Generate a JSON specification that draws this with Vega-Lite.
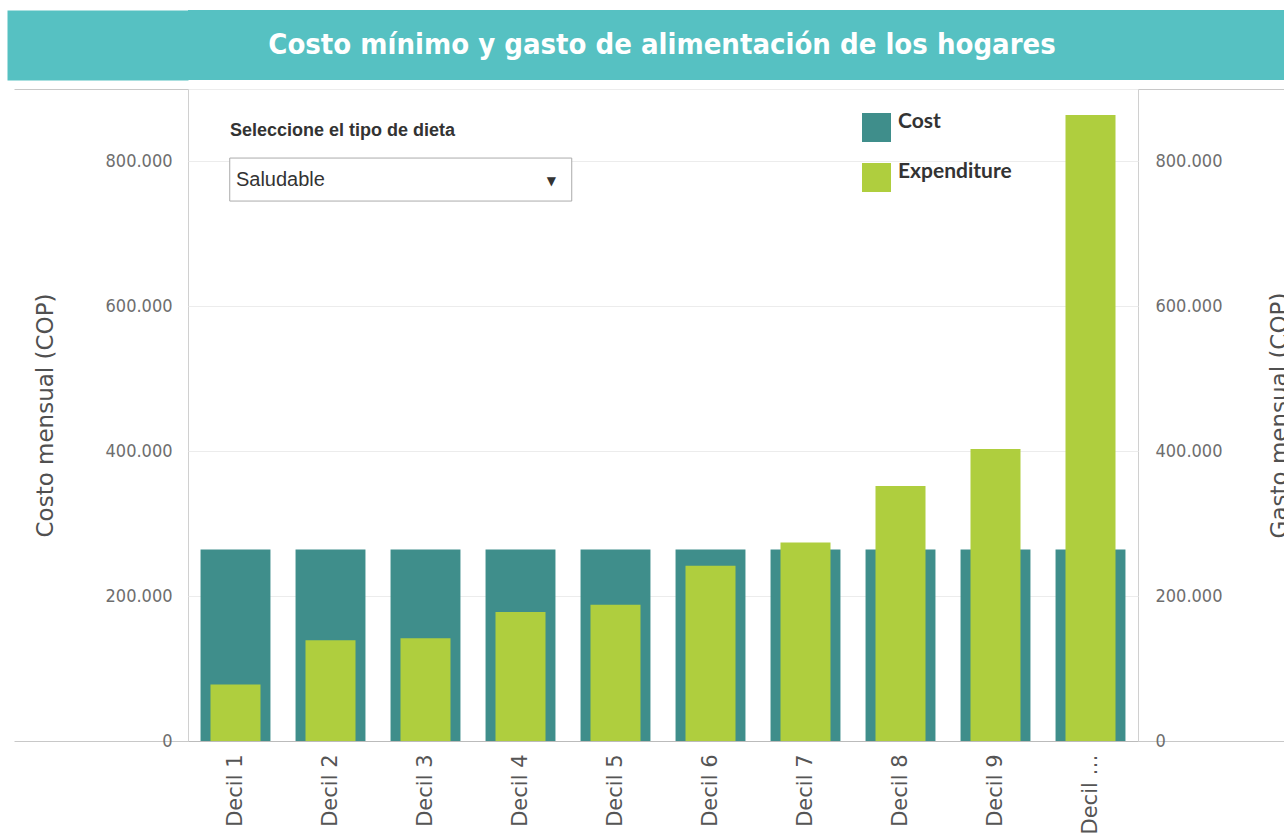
{
  "$schema": "https://vega.github.io/schema/vega-lite/v6.json",
  "padding": {"left": -28, "top": 10, "right": 0, "bottom": 0},
  "background": "white",
  "spacing": 8,
  "config": {"view": {"stroke": null}},
  "vconcat": [
    {
      "width": 1096,
      "height": 70,
      "view": {"fill": "#56C1C2", "stroke": null},
      "data": {"values": [{"t": "Costo mínimo y gasto de alimentación de los hogares"}]},
      "mark": {"type": "text", "color": "white", "font": "DejaVu Sans Condensed, sans-serif", "fontSize": 29, "fontWeight": "bold", "baseline": "middle", "align": "center", "dx": -74},
      "encoding": {
        "text": {"field": "t"},
        "y": {"datum": 0, "type": "quantitative", "scale": {"domain": [-1, 1]},
          "axis": {"values": [0], "title": null, "labels": false, "domain": false, "grid": false, "ticks": true, "tickSize": 181, "tickWidth": 70, "tickColor": "#56C1C2", "tickCap": "butt"}}
      }
    },
    {
      "width": 950,
      "height": 652,
      "view": {"stroke": "#D0D0D0", "strokeWidth": 1},
      "data": {"values": [
        {"decil": "Decil 1", "serie": "Cost", "value": 264500},
        {"decil": "Decil 2", "serie": "Cost", "value": 264500},
        {"decil": "Decil 3", "serie": "Cost", "value": 264500},
        {"decil": "Decil 4", "serie": "Cost", "value": 264500},
        {"decil": "Decil 5", "serie": "Cost", "value": 264500},
        {"decil": "Decil 6", "serie": "Cost", "value": 264500},
        {"decil": "Decil 7", "serie": "Cost", "value": 264500},
        {"decil": "Decil 8", "serie": "Cost", "value": 264500},
        {"decil": "Decil 9", "serie": "Cost", "value": 264500},
        {"decil": "Decil 10", "serie": "Cost", "value": 264500},
        {"decil": "Decil 1", "serie": "Expenditure", "value": 78000},
        {"decil": "Decil 2", "serie": "Expenditure", "value": 139000},
        {"decil": "Decil 3", "serie": "Expenditure", "value": 142000},
        {"decil": "Decil 4", "serie": "Expenditure", "value": 178000},
        {"decil": "Decil 5", "serie": "Expenditure", "value": 188000},
        {"decil": "Decil 6", "serie": "Expenditure", "value": 242000},
        {"decil": "Decil 7", "serie": "Expenditure", "value": 274000},
        {"decil": "Decil 8", "serie": "Expenditure", "value": 352000},
        {"decil": "Decil 9", "serie": "Expenditure", "value": 403000},
        {"decil": "Decil 10", "serie": "Expenditure", "value": 864000}
      ]},
      "layer": [
        {
          "transform": [{"filter": "datum.serie == 'Cost'"}],
          "mark": {"type": "bar"},
          "encoding": {
            "x": {"field": "decil", "type": "nominal",
              "scale": {"domain": ["Decil 1","Decil 2","Decil 3","Decil 4","Decil 5","Decil 6","Decil 7","Decil 8","Decil 9","Decil 10"], "paddingInner": 0.264, "paddingOuter": 0.132},
              "axis": {"title": null, "labelAngle": -90, "labelFont": "DejaVu Sans", "labelFontSize": 21, "labelColor": "#555555", "labelPadding": 13, "ticks": false, "domain": false,
                "labelExpr": "datum.value == 'Decil 10' ? 'Decil …' : datum.value"}},
            "y": {"field": "value", "type": "quantitative",
              "scale": {"domain": [0, 900000], "nice": false},
              "axis": {"orient": "left", "title": "Costo mensual (COP)", "values": [0, 200000, 400000, 600000, 800000, 900000],
                "labelExpr": "datum.value == 900000 ? '' : replace(format(datum.value, ',d'), ',', '.')",
                "grid": true, "gridColor": {"condition": {"test": "datum.value === 0", "value": "#BBBBBB"}, "value": "#ECECEC"},
                "domain": false, "ticks": true, "tickSize": 174, "tickColor": "#C8C8C8",
                "tickOpacity": {"condition": {"test": "datum.value == 0 || datum.value == 900000", "value": 1}, "value": 0},
                "labelPadding": -158,
                "labelFont": "DejaVu Sans Condensed, sans-serif", "labelFontSize": 18, "labelColor": "#6E6E6E",
                "titleFont": "DejaVu Sans", "titleFontSize": 23, "titleFontWeight": "normal", "titleColor": "#505050", "titleX": -131, "titleBaseline": "bottom", "titleAngle": -90}},
            "color": {"field": "serie", "type": "nominal",
              "scale": {"domain": ["Cost", "Expenditure"], "range": ["#3F8E8B", "#AFCE3E"]},
              "legend": {"orient": "none", "legendX": 674, "legendY": 103, "title": null, "symbolType": "square", "symbolSize": 840, "symbolStrokeWidth": 0,
                "labelFont": "Lato", "labelFontSize": 21, "labelFontWeight": "bold", "labelColor": "#333333", "labelBaseline": "alphabetic", "labelOffset": 7, "rowPadding": 18}}
          }
        },
        {
          "transform": [{"filter": "datum.serie == 'Expenditure'"}],
          "mark": {"type": "bar", "width": 50},
          "encoding": {
            "x": {"field": "decil", "type": "nominal", "axis": null},
            "y": {"field": "value", "type": "quantitative",
              "scale": {"domain": [0, 900000], "nice": false},
              "axis": {"orient": "right", "title": "Gasto mensual (COP)", "values": [0, 200000, 400000, 600000, 800000, 900000],
                "labelExpr": "datum.value == 900000 ? '' : replace(format(datum.value, ',d'), ',', '.')",
                "grid": false, "domain": false, "ticks": true, "tickSize": 146, "tickColor": "#C8C8C8",
                "tickOpacity": {"condition": {"test": "datum.value == 0 || datum.value == 900000", "value": 1}, "value": 0},
                "labelPadding": -129,
                "labelFont": "DejaVu Sans Condensed, sans-serif", "labelFontSize": 18, "labelColor": "#6E6E6E",
                "titleFont": "DejaVu Sans", "titleFontSize": 23, "titleFontWeight": "normal", "titleColor": "#505050", "titleX": 130, "titleBaseline": "top", "titleAngle": -90}},
            "color": {"field": "serie", "type": "nominal"}
          }
        },
        {
          "data": {"values": [{"t": "Seleccione el tipo de dieta"}]},
          "mark": {"type": "text", "align": "left", "baseline": "middle", "font": "Liberation Sans", "fontSize": 18, "fontWeight": "bold", "color": "#333333"},
          "encoding": {
            "x": {"datum": "Decil 1", "bandPosition": 0.42, "axis": null},
            "y": {"datum": 842000, "type": "quantitative", "axis": null},
            "text": {"field": "t"}
          }
        },
        {
          "data": {"values": [{"t": "box"}]},
          "mark": {"type": "point", "shape": "M-1,-0.1257H1V0.1257H-1Z", "size": 116964, "filled": true, "fill": "white", "stroke": "#ABABAB", "strokeWidth": 1, "opacity": 1},
          "encoding": {
            "x": {"datum": "Decil 3", "bandPosition": 0.146, "axis": null},
            "y": {"datum": 775000, "type": "quantitative", "axis": null}
          }
        },
        {
          "data": {"values": [{"t": "Saludable"}]},
          "mark": {"type": "text", "align": "left", "baseline": "middle", "font": "Liberation Sans", "fontSize": 20, "color": "#333333"},
          "encoding": {
            "x": {"datum": "Decil 1", "bandPosition": 0.506, "axis": null},
            "y": {"datum": 774400, "type": "quantitative", "axis": null},
            "text": {"field": "t"}
          }
        },
        {
          "data": {"values": [{"t": "▼"}]},
          "mark": {"type": "text", "align": "center", "baseline": "middle", "font": "DejaVu Sans", "fontSize": 12, "color": "#333333"},
          "encoding": {
            "x": {"datum": "Decil 4", "bandPosition": 0.94, "axis": null},
            "y": {"datum": 773000, "type": "quantitative", "axis": null},
            "text": {"field": "t"}
          }
        }
      ],
      "resolve": {"axis": {"y": "independent", "x": "independent"}}
    }
  ]
}
